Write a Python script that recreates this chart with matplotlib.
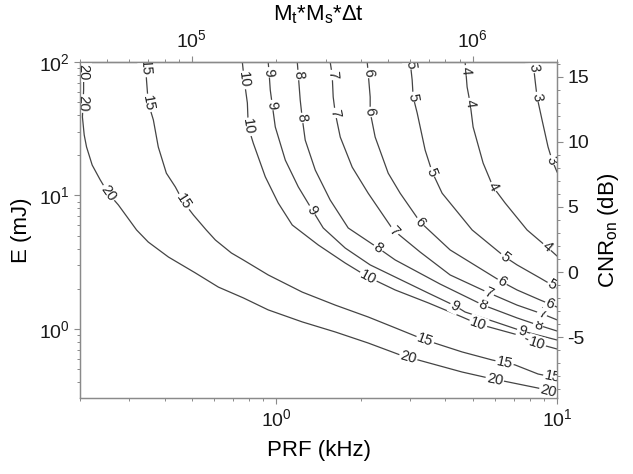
import numpy as np
import matplotlib
matplotlib.use('Agg')
from matplotlib import pyplot as plt
from matplotlib.ticker import MultipleLocator, NullFormatter

plt.rcParams['font.family'] = ['Liberation Sans', 'DejaVu Sans']
plt.rcParams['mathtext.default'] = 'regular'
plt.rcParams['axes.unicode_minus'] = False
plt.rcParams['axes.edgecolor'] = '#8a8a8a'
plt.rcParams['axes.linewidth'] = 0.9

# contour lines: PRF (kHz) and E (mJ) for each level
prf_20 = [0.206, 0.206, 0.204, 0.207, 0.211, 0.221, 0.236, 0.252, 0.274, 0.318, 0.350, 0.413, 0.515,
          0.622, 0.763, 0.936, 1.237, 1.622, 2.125, 2.762, 3.201, 4.590, 5.683, 6.693, 8.558, 10.0]
e_20 = [100, 61.7, 38.7, 28.4, 23.1, 16.9, 13.1, 10.4, 8.49, 5.52, 4.48, 3.46, 2.63,
        2.06, 1.71, 1.39, 1.13, 0.950, 0.785, 0.639, 0.586, 0.476, 0.430, 0.401, 0.361, 0.332]

prf_15 = [0.342, 0.345, 0.350, 0.365, 0.380, 0.406, 0.437, 0.467, 0.507, 0.563, 0.607, 0.692,
          0.763, 0.936, 1.237, 1.622, 2.125, 2.652, 3.390, 4.590, 5.871, 7.087, 8.558, 10.0]
e_15 = [100, 73.3, 49.3, 36.8, 23.1, 14.7, 11.6, 8.94, 7.14, 5.52, 4.64, 3.71,
        3.29, 2.54, 1.89, 1.51, 1.23, 1.02, 0.827, 0.673, 0.586, 0.538, 0.460, 0.430]

prf_10 = [0.757, 0.769, 0.789, 0.795, 0.828, 0.914, 1.016, 1.140, 1.411, 1.760, 2.125, 2.652,
          3.475, 4.590, 5.235, 5.871, 7.263, 8.350, 10.0]
e_10 = [100, 73.3, 49.3, 32.6, 24.7, 13.8, 8.79, 6.01, 4.26, 3.12, 2.45, 1.96,
        1.57, 1.23, 1.09, 1.02, 0.902, 0.785, 0.708]

prf_9 = [0.936, 0.944, 0.952, 0.968, 0.992, 1.077, 1.198, 1.343, 1.470, 1.760, 2.160, 2.652,
         3.475, 4.335, 4.705, 6.016, 7.506, 10.0]
e_9 = [100, 79.9, 61.7, 47.6, 32.6, 18.4, 11.6, 7.79, 5.71, 4.04, 3.02, 2.45,
       1.86, 1.49, 1.34, 1.13, 0.966, 0.827]

prf_8 = [1.188, 1.198, 1.217, 1.237, 1.268, 1.377, 1.556, 1.804, 2.307, 2.652, 3.834, 5.454,
         7.205, 8.558, 10.0]
e_8 = [100, 79.9, 51.9, 38.1, 26.0, 15.5, 9.25, 5.71, 4.04, 3.29, 2.17, 1.51, 1.21, 1.07, 0.966]

prf_7 = [1.556, 1.582, 1.595, 1.622, 1.690, 1.864, 2.125, 2.609, 3.254, 4.161, 5.728, 7.205,
         8.843, 10.0]
e_7 = [100, 79.9, 54.7, 41.5, 27.4, 16.3, 10.4, 5.52, 3.77, 2.54, 1.86, 1.51, 1.30, 1.17]

prf_6 = [2.108, 2.125, 2.160, 2.160, 2.250, 2.504, 2.762, 3.254, 4.161, 6.373, 7.205, 8.699, 10.0]
e_6 = [100, 82.7, 54.7, 42.2, 27.4, 14.7, 10.4, 6.33, 3.91, 2.25, 1.96, 1.65, 1.46]

prf_5 = [2.999, 3.048, 3.073, 3.176, 3.390, 3.591, 3.897, 4.984, 6.531, 7.205, 8.699, 10.0]
e_5 = [100, 73.3, 54.7, 41.5, 21.9, 15.0, 10.4, 5.52, 3.46, 3.02, 2.41, 2.03]

prf_4 = [4.705, 4.783, 4.902, 5.024, 5.454, 5.918, 6.531, 7.820, 9.214, 10.0]
e_4 = [100, 65.0, 49.3, 32.6, 17.5, 11.6, 8.79, 5.52, 4.11, 3.52]

prf_3 = [8.214, 8.350, 8.488, 8.843, 9.290, 9.601, 10.0]
e_3 = [100, 73.3, 54.7, 36.8, 23.1, 18.4, 15.0]

# where the inline labels sit (PRF, E), snapped onto the line below
labels_20 = [(0.206, 82.7), (0.206, 49.3), (0.252, 10.4), (2.95, 0.617), (6.016, 0.422), (9.29, 0.343)]
labels_15 = [(0.342, 90.2), (0.350, 49.3), (0.467, 8.94), (3.39, 0.827), (6.531, 0.566), (9.601, 0.437)]
labels_10 = [(0.757, 73.3), (0.795, 32.6), (2.125, 2.45), (5.235, 1.09), (8.488, 0.799)]
labels_9 = [(0.936, 84.0), (0.968, 47.6), (1.343, 7.79), (4.335, 1.49), (7.506, 0.966)]
labels_8 = [(1.188, 79.9), (1.237, 38.1), (2.307, 4.04), (5.454, 1.51), (8.558, 1.07)]
labels_7 = [(1.582, 79.9), (1.622, 41.5), (2.609, 5.33), (5.728, 1.86), (8.843, 1.30)]
labels_6 = [(2.125, 82.7), (2.160, 42.2), (3.254, 6.33), (6.373, 2.25), (9.443, 1.54)]
labels_5 = [(2.999, 96.6), (3.073, 54.7), (3.591, 15.0), (6.531, 3.46), (9.601, 2.14)]
labels_4 = [(4.783, 87.1), (4.902, 49.3), (5.918, 11.6), (9.214, 4.11)]
labels_3 = [(8.214, 90.2), (8.488, 54.7), (9.601, 18.4)]

levels = [20, 15, 10, 9, 8, 7, 6, 5, 4, 3]
curves = {20: (prf_20, e_20, labels_20), 15: (prf_15, e_15, labels_15), 10: (prf_10, e_10, labels_10),
          9: (prf_9, e_9, labels_9), 8: (prf_8, e_8, labels_8), 7: (prf_7, e_7, labels_7),
          6: (prf_6, e_6, labels_6), 5: (prf_5, e_5, labels_5), 4: (prf_4, e_4, labels_4),
          3: (prf_3, e_3, labels_3)}


def label_line(ax, xs, ys, spots, text):
    pts = ax.transData.transform(np.column_stack([xs, ys]))
    dense = []
    for a, b in zip(pts[:-1], pts[1:]):
        t = np.linspace(0, 1, 25)[:-1, None]
        dense.append(a + (b - a) * t)
    dense.append(pts[-1:])
    dense = np.vstack(dense)
    for sx, sy in spots:
        p = ax.transData.transform((sx, sy))
        i = int(np.argmin(np.hypot(*(dense - p).T)))
        i0, i1 = max(i - 4, 0), min(i + 4, len(dense) - 1)
        d = dense[i1] - dense[i0]
        if d[1] > 0:
            d = -d
        # lines run down to the right, so text reads downwards on steep parts
        ang = np.degrees(np.arctan2(d[1], d[0]))
        if ang < -135:
            ang += 180
        x, y = ax.transData.inverted().transform(dense[i])
        ax.text(x, y, text, rotation=ang, rotation_mode='anchor', ha='center', va='center',
                fontsize=10.5, color='#222222', zorder=3, clip_on=True,
                bbox=dict(facecolor='white', edgecolor='none', pad=0.8))


fig = plt.figure(figsize=(6.33, 4.74), dpi=100)
ax = fig.add_axes([0.1264, 0.1603, 0.7536, 0.7089])
ax.set_xscale('log')
ax.set_yscale('log')
ax.set_xlim(0.2, 10)
ax.set_ylim(0.304, 100)

for lev in levels:
    xs, ys, spots = curves[lev]
    ax.plot(xs, ys, color='#444444', lw=0.9, zorder=2)
for lev in levels:
    xs, ys, spots = curves[lev]
    label_line(ax, xs, ys, spots, str(lev))

tick_kw = dict(direction='out', color='#8a8a8a', labelcolor='#1a1a1a', labelsize=14)
ax.tick_params(which='both', top=False, right=False, **tick_kw)
ax.tick_params(which='major', length=4, width=0.8)
ax.tick_params(which='minor', length=2.5, width=0.7)
ax.xaxis.set_minor_formatter(NullFormatter())
ax.yaxis.set_minor_formatter(NullFormatter())
ax.set_xlabel('PRF (kHz)', fontsize=16, labelpad=7)
ax.set_ylabel('E (mJ)', fontsize=16, labelpad=5)

sec = ax.secondary_xaxis('top', functions=(lambda p: p * 2.0e5, lambda m: m / 2.0e5))
sec.tick_params(which='both', **tick_kw)
sec.tick_params(which='major', length=4, width=0.8)
sec.tick_params(which='minor', length=2.5, width=0.7)
sec.xaxis.set_minor_formatter(NullFormatter())
sec.set_xlabel('M$_t$*M$_s$*\u0394t', fontsize=16, labelpad=7)

ax2 = ax.twinx()
ax2.set_ylim(-9.69, 16.15)
ax2.yaxis.set_major_locator(MultipleLocator(5))
ax2.yaxis.set_minor_locator(MultipleLocator(1))
ax2.tick_params(which='both', **tick_kw)
ax2.tick_params(which='major', length=4, width=0.8)
ax2.tick_params(which='minor', length=2.5, width=0.7)
ax2.set_ylabel('CNR$_{on}$ (dB)', fontsize=16, labelpad=5)

fig.savefig('out.png', dpi=100)
